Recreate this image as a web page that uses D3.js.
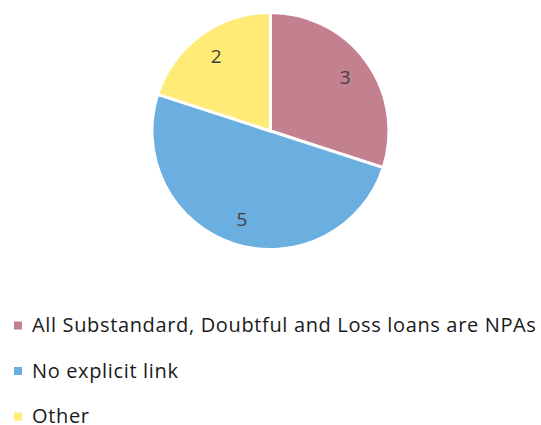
<!DOCTYPE html>
<html><head><meta charset="utf-8">
<script src="https://cdn.jsdelivr.net/npm/d3@7"></script>
<style>html,body{margin:0;padding:0;background:#fff;}svg{display:block;}</style>
</head><body>
<svg id="chart" width="541" height="425"></svg>
<script>
const categories = ["All Substandard, Doubtful and Loss loans are NPAs", "No explicit link", "Other"];
const values = [3, 5, 2];
const colors = ["#C3808F", "#6BAEE0", "#FFEB75"];

const svg = d3.select("#chart");
const cx = 270.5, cy = 131, r = 118.5;
const pie = d3.pie().sort(null).value(d => d)(values);
const arc = d3.arc().innerRadius(0).outerRadius(r);
const labelArc = d3.arc().innerRadius(r * 0.78).outerRadius(r * 0.78);
const g = svg.append("g").attr("transform", `translate(${cx},${cy})`);
g.selectAll("path").data(pie).join("path")
  .attr("d", arc).attr("fill", (d, i) => colors[i])
  .attr("stroke", "#fff").attr("stroke-width", 3).attr("stroke-linejoin", "round");
g.selectAll("text").data(pie).join("text")
  .attr("transform", d => `translate(${labelArc.centroid(d)})`)
  .attr("text-anchor", "middle").attr("dy", "0.36em")
  .attr("font-family", "'Open Sans', sans-serif").attr("font-size", 19)
  .attr("fill", "#404040").text(d => d.data);

const lg = svg.append("g");
const rows = lg.selectAll("g").data(categories).join("g")
  .attr("transform", (d, i) => `translate(0,${325.5 + i * 45.5})`);
rows.append("rect").attr("x", 14).attr("y", -4).attr("width", 8).attr("height", 8)
  .attr("fill", (d, i) => colors[i]);
rows.append("text").attr("x", 32).attr("y", 6.5)
  .attr("font-family", "'Open Sans', sans-serif").attr("font-size", 20)
  .attr("letter-spacing", "0.65px")
  .attr("fill", "#1a1a1a").text(d => d);
</script>
</body></html>
